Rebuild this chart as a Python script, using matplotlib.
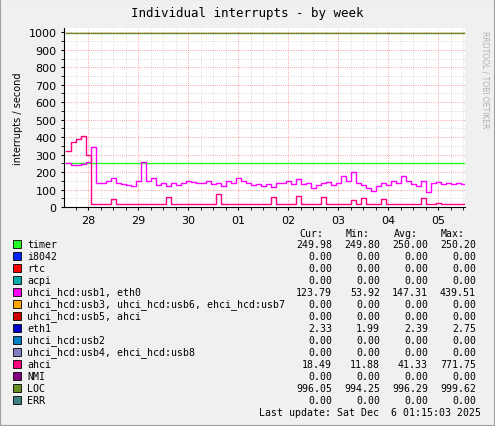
import matplotlib
matplotlib.use("Agg")
import matplotlib.pyplot as plt
import numpy as np

title = "Individual interrupts - by week"
day_labels = ["28", "29", "30", "01", "02", "03", "04", "05"]
t0 = -0.45
step = 0.1
uhci = [250, 238, 240, 245, 258, 345, 140, 140, 150, 165, 135, 130, 125, 118, 150, 255,
        150, 165, 125, 140, 118, 140, 128, 140, 150, 145, 140, 135, 150, 130, 135, 120,
        150, 135, 165, 150, 140, 128, 130, 120, 130, 115, 140, 135, 150, 130, 160, 130,
        135, 110, 125, 135, 145, 125, 140, 180, 150, 200, 140, 125, 110, 90, 120, 140,
        125, 150, 135, 180, 150, 130, 120, 150, 85, 135, 145, 130, 135, 130, 135, 130, 125]
ahci = [320, 370, 390, 405, 300, 15, 15, 15, 15, 45, 15, 15, 15, 15, 15, 15,
        15, 15, 15, 15, 55, 15, 15, 15, 15, 15, 15, 15, 15, 15, 75, 15,
        15, 15, 15, 15, 15, 15, 15, 15, 15, 60, 15, 15, 15, 15, 65, 15,
        15, 15, 15, 55, 15, 15, 15, 15, 15, 40, 15, 50, 15, 15, 15, 45,
        15, 15, 15, 15, 15, 15, 18, 50, 15, 15, 25, 15, 15, 20, 18, 15, 18]
timer = [250] * len(uhci)
loc = [999] * 5 + [995] * (len(uhci) - 5)

names = ["timer", "i8042", "rtc", "acpi", "uhci_hcd:usb1, eth0",
         "uhci_hcd:usb3, uhci_hcd:usb6, ehci_hcd:usb7", "uhci_hcd:usb5, ahci", "eth1",
         "uhci_hcd:usb2", "uhci_hcd:usb4, ehci_hcd:usb8", "ahci", "NMI", "LOC", "ERR"]
colors = ["#22ff22", "#0022ff", "#ff0000", "#00aaaa", "#ff00ff", "#ffa500", "#cc0000",
          "#0000cc", "#0080c0", "#8080c0", "#ff0080", "#800080", "#688e23", "#408080"]
cur = ["249.98", "0.00", "0.00", "0.00", "123.79", "0.00", "0.00", "2.33", "0.00", "0.00", "18.49", "0.00", "996.05", "0.00"]
mn = ["249.80", "0.00", "0.00", "0.00", "53.92", "0.00", "0.00", "1.99", "0.00", "0.00", "11.88", "0.00", "994.25", "0.00"]
avg = ["250.00", "0.00", "0.00", "0.00", "147.31", "0.00", "0.00", "2.39", "0.00", "0.00", "41.33", "0.00", "996.29", "0.00"]
mx = ["250.20", "0.00", "0.00", "0.00", "439.51", "0.00", "0.00", "2.75", "0.00", "0.00", "771.75", "0.00", "999.62", "0.00"]

W, H = 495, 427
fig = plt.figure(figsize=(W / 100, H / 100), dpi=100, facecolor="#f0f0f0")
ax = fig.add_axes([64 / W, 1 - 208 / H, (465 - 64) / W, (208 - 29) / H])
ax.set_facecolor("white")
x = t0 + step * np.arange(len(uhci))
ax.step(x, timer, where="post", color=colors[0], lw=1.0)
ax.step(x, loc, where="post", color=colors[12], lw=1.0)
ax.step(x, uhci, where="post", color=colors[4], lw=1.0)
ax.step(x, ahci, where="post", color=colors[10], lw=1.0)
ax.set_xlim(-0.48, 7.54)
ax.set_ylim(0, 1025)
ax.set_xticks(range(8))
ax.set_xticklabels(day_labels)
ax.set_yticks(range(0, 1001, 100))
ax.set_yticks(range(0, 1001, 50), minor=True)
ax.set_xticks(np.arange(-0.25, 7.54, 0.25), minor=True)
ax.grid(True, which="major", color="#ff8080", ls=":", lw=0.6)
ax.grid(True, which="minor", color="#d0d0d0", ls=":", lw=0.6)
ax.set_axisbelow(True)
for s in ["top", "right"]:
    ax.spines[s].set_visible(False)
ax.tick_params(labelsize=8, length=2, colors="black")
ax.set_ylabel("interrupts / second", fontsize=7)
fig.text(0.5, 1 - 13 / H, title, ha="center", va="center", family="DejaVu Sans Mono", fontsize=9)
fig.text(485 / W, 1 - 80 / H, "RRDTOOL / TOBI OETIKER", rotation=270, ha="center", va="center",
         fontsize=5.5, color="#b0b0b0")

mono = dict(family="DejaVu Sans Mono", fontsize=7.1)
def fy(py):
    return 1 - py / H
hx = [323, 370, 418, 465]
for hxi, h in zip(hx, ["Cur:", "Min:", "Avg:", "Max:"]):
    fig.text(hxi / W, fy(234), h, ha="right", va="center", **mono)
cx = [332, 380, 428, 476]
for i, n in enumerate(names):
    y = 245 + 12 * i
    fig.patches.append(plt.Rectangle((13 / W, fy(y + 4)), 8 / W, 8 / H, transform=fig.transFigure,
                                     facecolor=colors[i], edgecolor="black", lw=0.6))
    fig.text(27 / W, fy(y), n, ha="left", va="center", **mono)
    for cxi, v in zip(cx, [cur[i], mn[i], avg[i], mx[i]]):
        fig.text(cxi / W, fy(y), v, ha="right", va="center", **mono)
fig.text(481 / W, fy(413), "Last update: Sat Dec  6 01:15:03 2025", ha="right", va="center", **mono)
fig.patches.append(plt.Rectangle((0, 0), 1, 1, transform=fig.transFigure, fill=False,
                                 edgecolor="#a0a0a0", lw=1.5))
fig.savefig("out.png", dpi=100, facecolor=fig.get_facecolor())
